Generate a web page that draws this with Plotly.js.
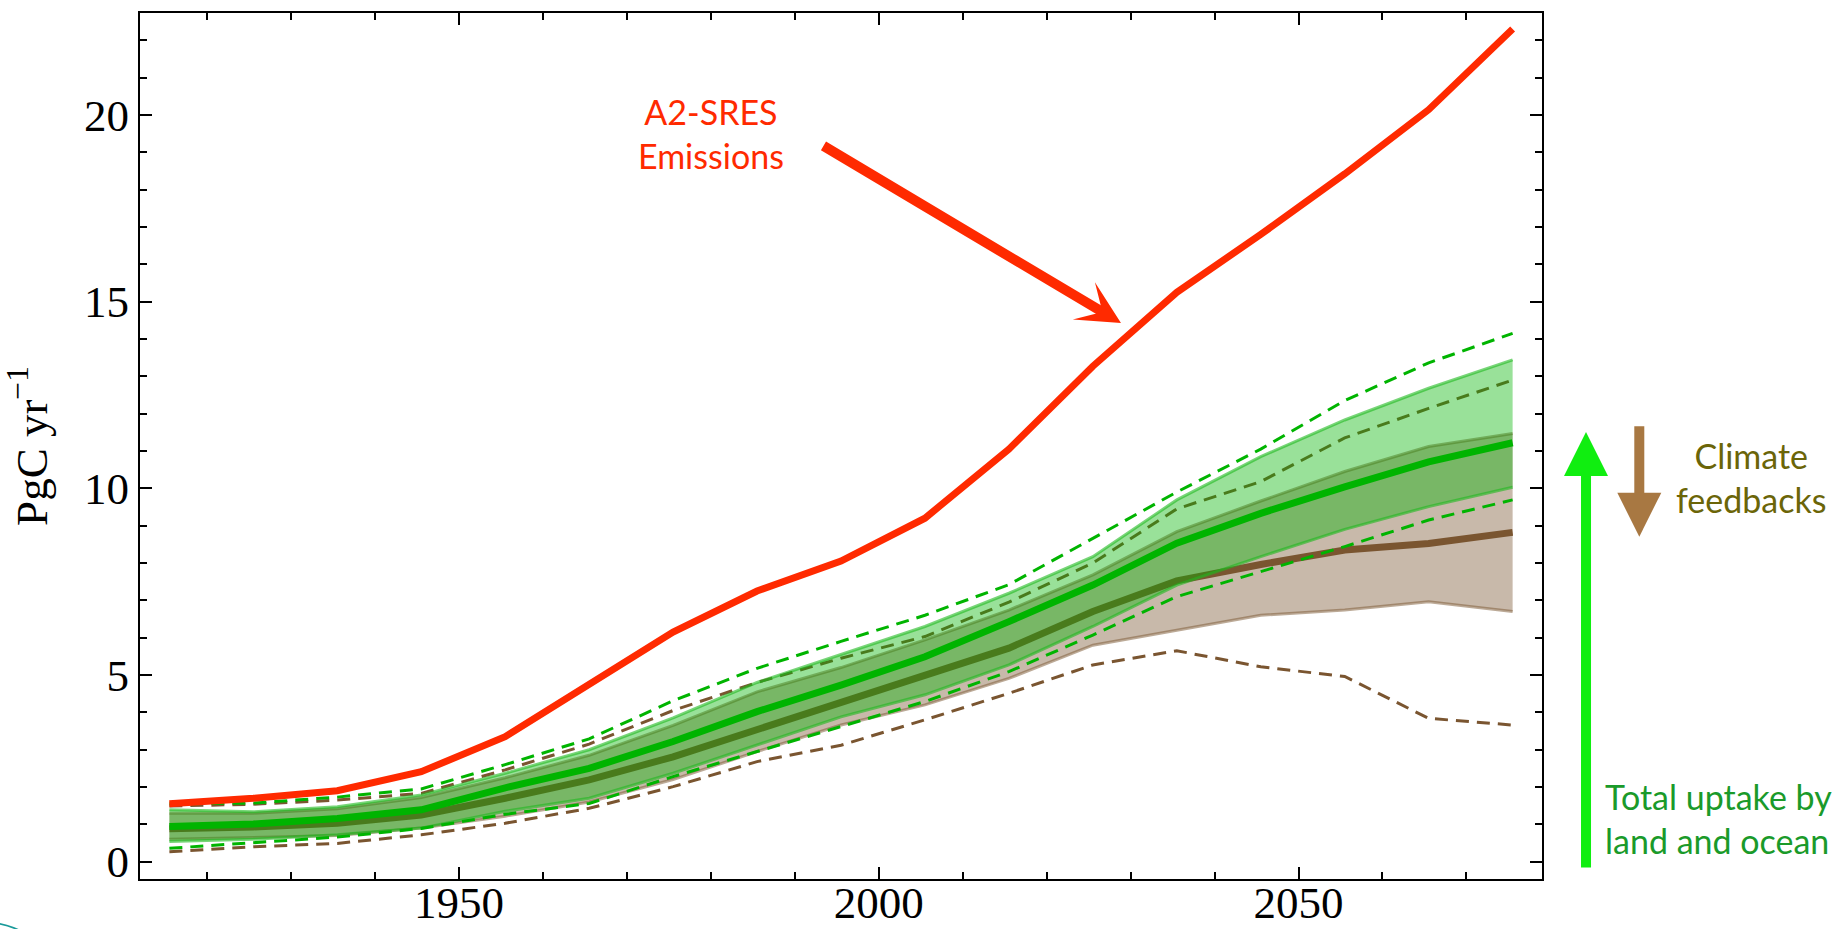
<!DOCTYPE html>
<html>
<head>
<meta charset="utf-8">
<script src="https://cdn.plot.ly/plotly-3.0.1.min.js"></script>
<style>
  html, body { margin: 0; padding: 0; background: #ffffff; }
  #chart { width: 1835px; height: 929px; }
</style>
</head>
<body>
<div id="chart"></div>
<script>
// Decade midpoints
const years = [1915.5, 1925.5, 1935.5, 1945.5, 1955.5, 1965.5, 1975.5, 1985.5, 1995.5,
               2005.5, 2015.5, 2025.5, 2035.5, 2045.5, 2055.5, 2065.5, 2075.5];

// A2-SRES emissions (PgC/yr)
const emissions = [1.55, 1.70, 1.90, 2.41, 3.35, 4.75, 6.15, 7.25, 8.05, 9.2, 11.05, 13.27, 15.25, 16.8, 18.42, 20.14, 22.3];

// Total uptake without climate feedbacks (green)
const greenMean   = [0.94, 1.01, 1.16, 1.39, 1.98, 2.5, 3.22, 4.02, 4.73, 5.49, 6.43, 7.41, 8.53, 9.33, 10.04, 10.71, 11.22];
const greenHi     = [1.39, 1.34, 1.47, 1.79, 2.37, 3.0, 3.85, 4.8, 5.55, 6.3, 7.19, 8.17, 9.69, 10.85, 11.83, 12.68, 13.44];
const greenLo     = [0.54, 0.6, 0.72, 0.9, 1.35, 1.7, 2.37, 3.13, 3.88, 4.47, 5.27, 6.3, 7.41, 8.17, 8.9, 9.51, 10.03];
const greenDashHi = [1.55, 1.57, 1.73, 1.95, 2.6, 3.29, 4.31, 5.18, 5.9, 6.6, 7.42, 8.66, 9.9, 11.05, 12.35, 13.36, 14.15];
const greenDashLo = [0.36, 0.5, 0.66, 0.89, 1.27, 1.56, 2.28, 2.95, 3.62, 4.29, 5.09, 6.07, 7.1, 7.77, 8.44, 9.15, 9.69];

// Total uptake with climate feedbacks (brown)
const brownMean   = [0.88, 0.93, 1.03, 1.25, 1.7, 2.19, 2.81, 3.53, 4.24, 4.96, 5.72, 6.7, 7.52, 7.96, 8.35, 8.52, 8.82];
const brownHi     = [1.3, 1.3, 1.42, 1.72, 2.25, 2.85, 3.65, 4.55, 5.2, 5.94, 6.74, 7.68, 8.84, 9.66, 10.45, 11.12, 11.47];
const brownLo     = [0.6, 0.65, 0.7, 0.9, 1.22, 1.6, 2.2, 2.95, 3.66, 4.2, 4.91, 5.8, 6.21, 6.6, 6.74, 6.96, 6.70];
const brownDashHi = [1.49, 1.54, 1.65, 1.83, 2.46, 3.15, 4.05, 4.8, 5.45, 6.03, 6.95, 8.0, 9.45, 10.18, 11.35, 12.14, 12.9];
const brownDashLo = [0.27, 0.4, 0.49, 0.72, 1.03, 1.43, 2.01, 2.68, 3.12, 3.8, 4.51, 5.27, 5.65, 5.22, 4.96, 3.84, 3.66];

const RED = '#ff2a00';
const GREEN = '#00b400';
const BROWN = '#7a5530';

function line(y, color, width, extra) {
  return Object.assign({
    x: years, y: y, type: 'scatter', mode: 'lines',
    line: { color: color, width: width },
    hoverinfo: 'skip', showlegend: false
  }, extra || {});
}

const traces = [
  line(brownLo, 'rgba(122,85,48,0.5)', 3),
  line(brownHi, 'rgba(122,85,48,0.5)', 3, { fill: 'tonexty', fillcolor: 'rgba(122,85,48,0.41)' }),
  line(brownMean, BROWN, 7),
  line(brownDashHi, BROWN, 3, { line: { color: BROWN, width: 3, dash: '13px,8px' } }),
  line(brownDashLo, BROWN, 3, { line: { color: BROWN, width: 3, dash: '13px,8px' } }),
  line(greenLo, 'rgba(30,185,30,0.6)', 3),
  line(greenHi, 'rgba(30,185,30,0.6)', 3, { fill: 'tonexty', fillcolor: 'rgba(0,180,0,0.4)' }),
  line(greenMean, GREEN, 7),
  line(greenDashHi, GREEN, 3, { line: { color: GREEN, width: 3, dash: '13px,8px' } }),
  line(greenDashLo, GREEN, 3, { line: { color: GREEN, width: 3, dash: '13px,8px' } }),
  line(emissions, RED, 7)
];

const tickFont = { family: 'Liberation Serif, Times New Roman, serif', size: 45, color: '#000' };
const sansFont = 'Lato, Open Sans, sans-serif';

const layout = {
  width: 1835, height: 929,
  margin: { l: 140, r: 293, t: 13, b: 50 },
  paper_bgcolor: '#ffffff', plot_bgcolor: '#ffffff',
  showlegend: false,
  xaxis: {
    range: [1912, 2079], tickmode: 'linear', tick0: 1950, dtick: 50,
    ticks: 'inside', ticklen: 12, tickwidth: 2, tickcolor: '#000',
    ticklabelstandoff: -17,
    minor: { ticks: 'inside', ticklen: 7, tickwidth: 2, tickcolor: '#000', tick0: 1910, dtick: 10, showgrid: false },
    showline: true, linewidth: 2, linecolor: '#000', mirror: 'ticks',
    showgrid: false, zeroline: false, tickfont: tickFont
  },
  yaxis: {
    range: [-0.463, 22.73], tickmode: 'linear', tick0: 0, dtick: 5,
    ticks: 'inside', ticklen: 12, tickwidth: 2, tickcolor: '#000',
    minor: { ticks: 'inside', ticklen: 7, tickwidth: 2, tickcolor: '#000', tick0: 0, dtick: 1, showgrid: false },
    showline: true, linewidth: 2, linecolor: '#000', mirror: 'ticks',
    showgrid: false, zeroline: false, tickfont: tickFont,
    title: { text: 'PgC yr<sup>\u22121</sup>', font: tickFont, standoff: 22 }
  },
  shapes: [
    { type: 'circle', xref: 'paper', yref: 'paper',
      x0: -0.1658, x1: -0.0553, y0: -0.2292, y1: -0.0502,
      line: { color: '#1a9a9a', width: 2 }, layer: 'above' }
  ],
  annotations: [
    { xref: 'paper', yref: 'paper', x: 0.4073, y: 0.8609, xanchor: 'center', yanchor: 'middle',
      text: 'A2-SRES<br>Emissions', showarrow: false, font: { family: sansFont, size: 34, color: RED } },
    { xref: 'paper', yref: 'paper', x: 0.6997, y: 0.642, text: '', showarrow: true,
      axref: 'pixel', ayref: 'pixel', ax: -299, ay: -178,
      arrowhead: 3, arrowwidth: 10, arrowsize: 0.72, arrowcolor: RED, standoff: 0 },
    { xref: 'paper', yref: 'paper', x: 1.0314, y: 0.5162, text: '', showarrow: true,
      axref: 'pixel', ayref: 'pixel', ax: 0, ay: 437,
      arrowhead: 2, arrowwidth: 10, arrowsize: 0.88, arrowcolor: '#10ee10', standoff: 0 },
    { xref: 'paper', yref: 'paper', x: 1.0694, y: 0.3953, text: '', showarrow: true,
      axref: 'pixel', ayref: 'pixel', ax: 0, ay: -112,
      arrowhead: 2, arrowwidth: 10, arrowsize: 0.88, arrowcolor: '#a87842', standoff: 0 },
    { xref: 'paper', yref: 'paper', x: 1.149, y: 0.4633, xanchor: 'center', yanchor: 'middle',
      text: 'Climate<br>feedbacks', showarrow: false, font: { family: sansFont, size: 34, color: '#6b6508' } },
    { xref: 'paper', yref: 'paper', x: 1.0435, y: 0.0703, xanchor: 'left', yanchor: 'middle', align: 'left',
      text: 'Total uptake by<br>land and ocean', showarrow: false, font: { family: sansFont, size: 34, color: '#1a9a2a' } }
  ]
};

Plotly.newPlot('chart', traces, layout, { displayModeBar: false, staticPlot: true });
</script>
</body>
</html>
